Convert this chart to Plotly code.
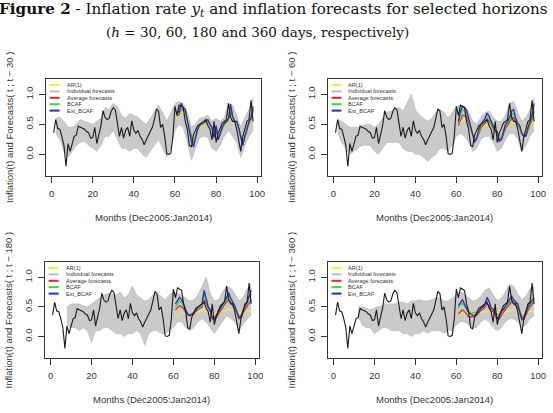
import plotly.graph_objects as go

W, H = 553, 413

# ---------------- data ----------------
months = list(range(1, 99))
inflation = [0.36, 0.58, 0.43, 0.42, 0.30, 0.15, -0.20, 0.18, 0.05, 0.18,
             0.30, 0.32, 0.47, 0.45, 0.43, 0.42, 0.38, 0.36, 0.27, 0.28,
             0.45, 0.18, 0.33, 0.48, 0.73, 0.62, 0.58, 0.60, 0.72, 0.78,
             0.74, 0.55, 0.30, 0.45, 0.27, 0.40, 0.45, 0.30, 0.56, 0.40,
             0.35, 0.40, 0.30, 0.25, 0.16, 0.24, 0.30, 0.38, 0.45, 0.58,
             0.76, 0.72, 0.45, 0.50, 0.30, 0.01, 0.00, 0.02, 0.30, 0.80,
             0.65, 0.82, 0.80, 0.78, 0.55, 0.42, 0.15, 0.13, 0.33, 0.42,
             0.48, 0.50, 0.52, 0.55, 0.58, 0.48, 0.42, 0.24, 0.55, 0.20,
             0.35, 0.45, 0.52, 0.55, 0.58, 0.85, 0.62, 0.55, 0.55, 0.42,
             0.25, 0.05, 0.30, 0.45, 0.55, 0.58, 0.90, 0.55]

fc_months = list(range(61, 99))

# h = 30
ar1_h30 = [0.60, 0.62, 0.70, 0.70, 0.68, 0.55, 0.46, 0.30, 0.22, 0.32, 0.40, 0.45, 0.48, 0.50, 0.51, 0.53, 0.48, 0.44, 0.33, 0.45,
           0.30, 0.35, 0.43, 0.48, 0.50, 0.53, 0.68, 0.58, 0.52, 0.52, 0.44, 0.34, 0.24, 0.33, 0.42, 0.50, 0.55, 0.70]
avg_h30 = [0.64, 0.66, 0.76, 0.74, 0.70, 0.56, 0.45, 0.26, 0.17, 0.30, 0.41, 0.47, 0.50, 0.51, 0.53, 0.56, 0.50, 0.44, 0.30, 0.45,
           0.26, 0.33, 0.44, 0.50, 0.53, 0.57, 0.74, 0.61, 0.55, 0.54, 0.44, 0.30, 0.19, 0.30, 0.43, 0.52, 0.58, 0.74]
bcaf_h30 = [0.66, 0.68, 0.78, 0.75, 0.72, 0.56, 0.44, 0.25, 0.16, 0.30, 0.42, 0.48, 0.50, 0.52, 0.54, 0.56, 0.50, 0.44, 0.30, 0.46,
            0.26, 0.34, 0.45, 0.50, 0.53, 0.58, 0.76, 0.62, 0.55, 0.54, 0.44, 0.30, 0.18, 0.30, 0.44, 0.53, 0.60, 0.76]
ext_h30 = [0.72, 0.70, 0.85, 0.78, 0.75, 0.58, 0.45, 0.22, 0.12, 0.30, 0.42, 0.50, 0.52, 0.54, 0.56, 0.58, 0.50, 0.44, 0.28, 0.48,
           0.24, 0.34, 0.46, 0.52, 0.55, 0.60, 0.84, 0.64, 0.56, 0.55, 0.44, 0.28, 0.15, 0.30, 0.45, 0.55, 0.62, 0.80]

# h = 60
ar1_h60 = [0.50, 0.52, 0.58, 0.58, 0.56, 0.50, 0.46, 0.40, 0.35, 0.36, 0.40, 0.44, 0.46, 0.48, 0.50, 0.50, 0.48, 0.46, 0.42, 0.40,
           0.36, 0.36, 0.40, 0.44, 0.46, 0.48, 0.52, 0.54, 0.50, 0.48, 0.46, 0.42, 0.40, 0.40, 0.42, 0.46, 0.50, 0.55]
avg_h60 = [0.48, 0.58, 0.65, 0.65, 0.62, 0.52, 0.44, 0.32, 0.22, 0.26, 0.36, 0.44, 0.48, 0.52, 0.58, 0.56, 0.50, 0.44, 0.38, 0.36,
           0.22, 0.24, 0.36, 0.44, 0.48, 0.54, 0.60, 0.62, 0.54, 0.48, 0.44, 0.34, 0.30, 0.30, 0.40, 0.48, 0.58, 0.72]
bcaf_h60 = [0.52, 0.66, 0.74, 0.72, 0.68, 0.56, 0.46, 0.32, 0.22, 0.28, 0.40, 0.48, 0.52, 0.56, 0.62, 0.60, 0.52, 0.46, 0.40, 0.38,
            0.25, 0.27, 0.40, 0.48, 0.52, 0.58, 0.66, 0.68, 0.57, 0.50, 0.46, 0.35, 0.32, 0.33, 0.43, 0.52, 0.62, 0.78]
ext_h60 = [0.55, 0.72, 0.80, 0.78, 0.74, 0.60, 0.48, 0.30, 0.20, 0.28, 0.42, 0.50, 0.55, 0.60, 0.68, 0.64, 0.55, 0.48, 0.40, 0.38,
           0.22, 0.25, 0.40, 0.50, 0.55, 0.62, 0.72, 0.75, 0.60, 0.52, 0.48, 0.35, 0.30, 0.32, 0.45, 0.55, 0.65, 0.85]

# h = 180
ar1_h180 = [0.33, 0.35, 0.38, 0.40, 0.40, 0.40, 0.38, 0.38, 0.38, 0.39, 0.40, 0.41, 0.42, 0.43, 0.45, 0.44, 0.42, 0.41, 0.38, 0.37,
            0.37, 0.38, 0.40, 0.42, 0.43, 0.44, 0.46, 0.45, 0.44, 0.43, 0.42, 0.40, 0.40, 0.41, 0.42, 0.43, 0.44, 0.40]
avg_h180 = [0.45, 0.48, 0.52, 0.50, 0.47, 0.41, 0.36, 0.35, 0.36, 0.38, 0.42, 0.46, 0.48, 0.50, 0.62, 0.55, 0.47, 0.42, 0.30, 0.28,
            0.32, 0.38, 0.44, 0.50, 0.54, 0.58, 0.62, 0.58, 0.52, 0.47, 0.40, 0.30, 0.31, 0.40, 0.46, 0.52, 0.58, 0.62]
bcaf_h180 = [0.50, 0.55, 0.60, 0.57, 0.52, 0.44, 0.38, 0.37, 0.38, 0.40, 0.44, 0.48, 0.50, 0.53, 0.72, 0.60, 0.50, 0.44, 0.33, 0.32,
             0.35, 0.42, 0.47, 0.53, 0.57, 0.62, 0.68, 0.62, 0.56, 0.50, 0.42, 0.34, 0.35, 0.44, 0.50, 0.56, 0.66, 0.72]
ext_h180 = [0.55, 0.60, 0.66, 0.62, 0.55, 0.45, 0.38, 0.36, 0.38, 0.40, 0.45, 0.50, 0.52, 0.55, 0.78, 0.62, 0.50, 0.45, 0.32, 0.30,
            0.35, 0.42, 0.48, 0.55, 0.60, 0.66, 0.74, 0.65, 0.58, 0.52, 0.42, 0.32, 0.34, 0.45, 0.52, 0.58, 0.70, 0.78]

# h = 360
ar1_h360 = [0.38, 0.38, 0.40, 0.40, 0.40, 0.39, 0.38, 0.38, 0.38, 0.38, 0.39, 0.40, 0.41, 0.42, 0.44, 0.44, 0.43, 0.42, 0.41, 0.39,
            0.39, 0.40, 0.41, 0.42, 0.43, 0.44, 0.45, 0.45, 0.44, 0.44, 0.42, 0.40, 0.40, 0.41, 0.42, 0.43, 0.43, 0.42]
avg_h360 = [0.38, 0.42, 0.45, 0.42, 0.38, 0.34, 0.33, 0.33, 0.34, 0.36, 0.40, 0.44, 0.46, 0.50, 0.56, 0.52, 0.44, 0.42, 0.36, 0.28,
            0.30, 0.36, 0.42, 0.46, 0.50, 0.54, 0.58, 0.56, 0.52, 0.50, 0.40, 0.28, 0.29, 0.38, 0.44, 0.50, 0.55, 0.58]
bcaf_h360 = [0.48, 0.54, 0.56, 0.52, 0.47, 0.42, 0.40, 0.40, 0.40, 0.41, 0.43, 0.47, 0.50, 0.54, 0.62, 0.58, 0.48, 0.46, 0.42, 0.36,
             0.38, 0.42, 0.46, 0.50, 0.55, 0.58, 0.62, 0.60, 0.56, 0.54, 0.44, 0.34, 0.35, 0.42, 0.48, 0.54, 0.58, 0.62]
ext_h360 = [0.52, 0.58, 0.62, 0.55, 0.48, 0.40, 0.38, 0.36, 0.36, 0.38, 0.42, 0.48, 0.50, 0.55, 0.66, 0.60, 0.48, 0.46, 0.40, 0.30,
            0.34, 0.42, 0.46, 0.52, 0.58, 0.62, 0.68, 0.62, 0.58, 0.55, 0.42, 0.30, 0.32, 0.42, 0.50, 0.56, 0.62, 0.66]

# individual forecasts: range (min / max) of the gray bundle
ind_months_h30 = list(range(2, 99, 2))
ind_lo_h30 = [0.35, 0.25, 0.05, -0.05, 0.05, 0.15, 0.20, 0.22, 0.15, 0.10,
              0.05, 0.15, 0.30, 0.30, 0.40, 0.25, 0.10, 0.10, 0.05, 0.10,
              0.10, 0.00, -0.05, 0.05, 0.15, 0.25, 0.10, -0.05, 0.10, 0.40,
              0.50, 0.45, 0.20, -0.10, 0.10, 0.28, 0.30, 0.28, 0.10, 0.05,
              0.15, 0.30, 0.40, 0.30, 0.20, -0.05, 0.15, 0.30, 0.40]
ind_hi_h30 = [0.60, 0.62, 0.55, 0.45, 0.45, 0.50, 0.58, 0.55, 0.52, 0.50,
              0.55, 0.60, 0.78, 0.75, 0.85, 0.80, 0.65, 0.60, 0.68, 0.65,
              0.62, 0.55, 0.50, 0.60, 0.72, 0.82, 0.70, 0.55, 0.70, 0.85,
              0.88, 0.85, 0.70, 0.45, 0.50, 0.60, 0.62, 0.65, 0.55, 0.60,
              0.55, 0.62, 0.85, 0.82, 0.65, 0.45, 0.62, 0.75, 0.95]

ind_months_h60 = list(range(2, 99, 2))
ind_lo_h60 = [0.35, 0.20, 0.10, 0.00, 0.05, 0.10, 0.15, 0.15, 0.15, 0.05,
              0.00, 0.10, 0.20, 0.20, 0.20, 0.20, 0.10, 0.05, 0.05, 0.00,
              0.00, -0.05, -0.12, -0.05, 0.00, 0.10, 0.10, 0.05, 0.15, 0.30,
              0.35, 0.30, 0.20, 0.05, 0.10, 0.25, 0.30, 0.30, 0.20, 0.05,
              0.10, 0.25, 0.35, 0.35, 0.25, 0.05, 0.15, 0.30, 0.40]
ind_hi_h60 = [0.58, 0.55, 0.50, 0.45, 0.45, 0.45, 0.48, 0.50, 0.50, 0.45,
              0.50, 0.60, 0.70, 0.72, 0.75, 0.78, 0.72, 0.85, 1.00, 0.75,
              0.65, 0.60, 0.55, 0.60, 0.70, 0.75, 0.70, 0.60, 0.70, 0.80,
              0.82, 0.80, 0.70, 0.55, 0.50, 0.62, 0.70, 0.72, 0.62, 0.55,
              0.55, 0.65, 0.85, 0.88, 0.70, 0.55, 0.62, 0.75, 0.95]

ind_months_h180 = list(range(8, 99, 2))
ind_lo_h180 = [0.20, 0.15, 0.15, 0.10, 0.15, 0.10, -0.10, 0.10, 0.10, 0.15,
               0.15, 0.10, 0.05, 0.05, 0.00, 0.05, 0.05, 0.10, 0.05, -0.15,
               0.05, 0.10, 0.10, 0.05, 0.05, 0.10, 0.15, 0.25, 0.25, 0.15,
               0.10, 0.15, 0.25, 0.30, 0.25, 0.15, 0.05, 0.15, 0.25, 0.35,
               0.30, 0.25, 0.10, 0.20, 0.30, 0.35]
ind_hi_h180 = [0.50, 0.55, 0.55, 0.55, 0.52, 0.50, 0.55, 0.60, 0.65, 0.70,
               0.72, 0.72, 0.70, 0.75, 0.65, 0.70, 0.85, 0.70, 0.65, 0.60,
               0.62, 0.70, 0.72, 0.68, 0.62, 0.70, 0.75, 0.72, 0.70, 0.65,
               0.60, 0.62, 0.70, 0.85, 1.00, 0.72, 0.60, 0.62, 0.75, 0.85,
               0.82, 0.72, 0.60, 0.65, 0.80, 0.88]

ind_months_h360 = list(range(12, 99, 2))
ind_lo_h360 = [0.35, 0.20, 0.15, 0.15, 0.05, 0.10, 0.15, 0.15, 0.10, 0.10,
               0.10, 0.05, 0.05, 0.00, 0.05, 0.05, 0.10, 0.05, 0.10, 0.10,
               0.10, 0.05, 0.10, 0.10, 0.20, 0.25, 0.25, 0.20, 0.15, 0.15,
               0.25, 0.30, 0.25, 0.15, 0.10, 0.15, 0.25, 0.30, 0.30, 0.25,
               0.15, 0.20, 0.30, 0.35]
ind_hi_h360 = [0.50, 0.50, 0.48, 0.45, 0.48, 0.50, 0.52, 0.55, 0.55, 0.55,
               0.58, 0.58, 0.55, 0.60, 0.60, 0.62, 0.60, 0.60, 0.62, 0.65,
               0.65, 0.60, 0.60, 0.65, 0.70, 0.75, 0.72, 0.65, 0.60, 0.62,
               0.68, 0.78, 0.82, 0.70, 0.60, 0.65, 0.75, 0.88, 0.85, 0.72,
               0.62, 0.68, 0.80, 0.85]

horizons = ["30", "60", "180", "360"]
legend_labels = ["AR(1)", "Individual forecasts", "Average forecasts", "BCAF", "Ext_BCAF"]
x_ticks = [0, 20, 40, 60, 80, 100]
y_ticks = [0.0, 0.5, 1.0]
y_tick_text = ["0.0", "0.5", "1.0"]

# ---------------- styling ----------------
C_AR, C_IND, C_AVG, C_BCAF, C_EXT = "#eeee3a", "#bdbdbd", "#e8262a", "#2fdc2f", "#2a2ac8"
legend_colors = [C_AR, C_IND, C_AVG, C_BCAF, C_EXT]
SANS = "Liberation Sans, Arial, Helvetica, sans-serif"
SERIF = "DejaVu Serif, Liberation Serif, serif"
TXT = "#333333"

panels = [
    dict(h="30", ind=(ind_months_h30, ind_lo_h30, ind_hi_h30), fc=(ar1_h30, avg_h30, bcaf_h30, ext_h30)),
    dict(h="60", ind=(ind_months_h60, ind_lo_h60, ind_hi_h60), fc=(ar1_h60, avg_h60, bcaf_h60, ext_h60)),
    dict(h="180", ind=(ind_months_h180, ind_lo_h180, ind_hi_h180), fc=(ar1_h180, avg_h180, bcaf_h180, ext_h180)),
    dict(h="360", ind=(ind_months_h360, ind_lo_h360, ind_hi_h360), fc=(ar1_h360, avg_h360, bcaf_h360, ext_h360)),
]
# pixel boxes of the plotting regions: left, right, top, bottom
boxes = [(46, 263, 79, 176), (330, 546, 79, 176), (45, 261, 262, 358), (330, 546, 262, 358)]

fig = go.Figure()
annotations = []
shapes = []

for i, (p, (l, r, t, b)) in enumerate(zip(panels, boxes)):
    n = "" if i == 0 else str(i + 1)
    xa, ya = "x" + n, "y" + n
    im, lo, hi = p["ind"]
    common = dict(xaxis=xa, yaxis=ya, showlegend=False, hoverinfo="skip", mode="lines")
    fig.add_trace(go.Scatter(x=im, y=hi, line=dict(color="#b3b3b3", width=0.6), **common))
    fig.add_trace(go.Scatter(x=im, y=lo, line=dict(color="#b3b3b3", width=0.6),
                             fill="tonexty", fillcolor="#cacaca", **common))
    for series, col in zip(p["fc"], [C_AR, C_AVG, C_BCAF, C_EXT]):
        fig.add_trace(go.Scatter(x=fc_months, y=series, line=dict(color=col, width=1.3), **common))
    fig.add_trace(go.Scatter(x=months, y=inflation, line=dict(color="#1a1a1a", width=1.1), **common))

    axfont = dict(family=SANS, size=9.5, color=TXT)
    fig.layout["xaxis" + n] = dict(
        domain=[l / W, r / W], range=[-2.88, 101.88], anchor=ya,
        tickvals=x_ticks, ticks="outside", ticklen=6, tickcolor="#333",
        showline=True, mirror=True, linecolor="#333", linewidth=1,
        showgrid=False, zeroline=False, tickfont=axfont, ticklabelstandoff=3)
    fig.layout["yaxis" + n] = dict(
        domain=[1 - b / H, 1 - t / H], range=[-0.362, 1.257], anchor=xa,
        tickvals=y_ticks, ticktext=y_tick_text, tickangle=-90,
        ticks="outside", ticklen=6, tickcolor="#333",
        showline=True, mirror=True, linecolor="#333", linewidth=1,
        showgrid=False, zeroline=False, tickfont=axfont, ticklabelstandoff=2)

    # axis titles
    annotations.append(dict(text="Months (Dec2005:Jan2014)", x=(l + r) / 2 / W, y=1 - (b + 41) / H,
                            xref="paper", yref="paper", xanchor="center", yanchor="middle",
                            showarrow=False, font=dict(family=SANS, size=9.5, color=TXT)))
    annotations.append(dict(text="Inflation(t) and Forecasts( t ; t \u2212 " + p["h"] + " )",
                            x=(l - 36.5) / W, y=1 - (t + b) / 2 / H, textangle=-90,
                            xref="paper", yref="paper", xanchor="center", yanchor="middle",
                            showarrow=False, font=dict(family=SANS, size=9.5, color=TXT)))
    # legend
    for k, (lab, col) in enumerate(zip(legend_labels, legend_colors)):
        yy = t + 6 + k * 6.4
        shapes.append(dict(type="line", xref="paper", yref="paper",
                           x0=(l + 4) / W, x1=(l + 14) / W, y0=1 - yy / H, y1=1 - yy / H,
                           line=dict(color=col, width=2)))
        annotations.append(dict(text=lab, x=(l + 19) / W, y=1 - yy / H, xref="paper", yref="paper",
                                xanchor="left", yanchor="middle", showarrow=False,
                                font=dict(family=SANS, size=5.6, color=TXT)))

annotations.append(dict(
    text="<b>Figure 2</b> - Inflation rate <i>y<sub>t</sub></i> and inflation forecasts for selected horizons",
    x=275.5 / W, y=1 - 10 / H, xref="paper", yref="paper", xanchor="center", yanchor="middle",
    showarrow=False, font=dict(family=SERIF, size=15.2, color="#111")))
annotations.append(dict(
    text="(<i>h</i> = 30, 60, 180 and 360 days, respectively)",
    x=259.5 / W, y=1 - 32 / H, xref="paper", yref="paper", xanchor="center", yanchor="middle",
    showarrow=False, font=dict(family=SERIF, size=13.5, color="#111")))

fig.update_layout(width=W, height=H, autosize=False,
                  margin=dict(l=0, r=0, t=0, b=0, pad=0),
                  paper_bgcolor="white", plot_bgcolor="white",
                  annotations=annotations, shapes=shapes, showlegend=False)

fig.write_html("out.html")
